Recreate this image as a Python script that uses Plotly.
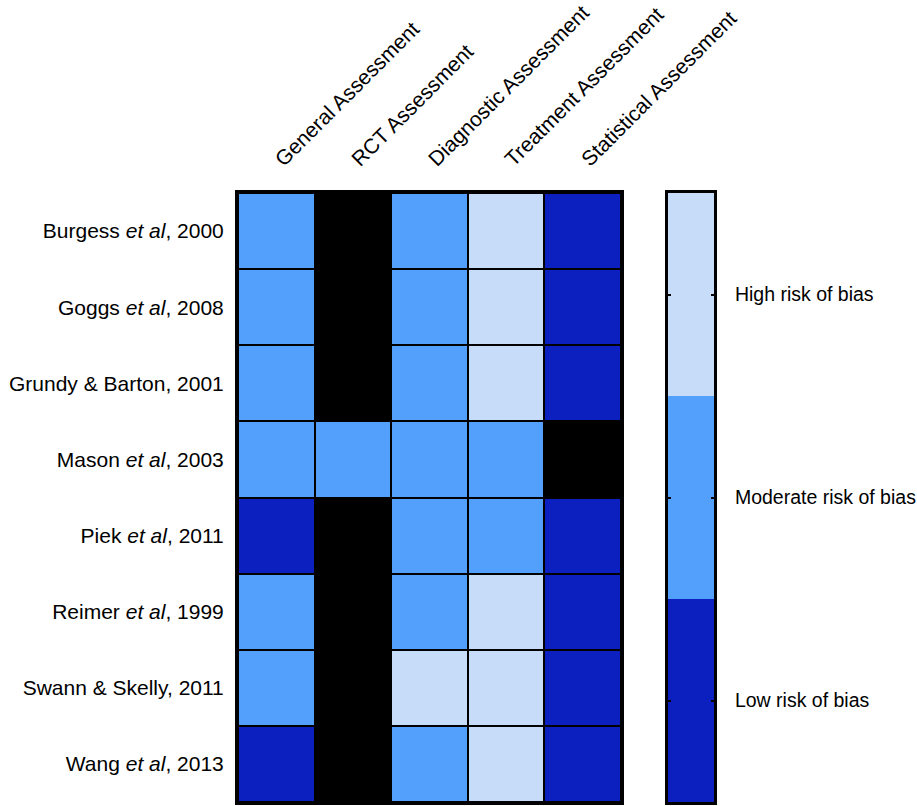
import plotly.graph_objects as go

studies = ["Burgess <i>et al</i>, 2000", "Goggs <i>et al</i>, 2008", "Grundy &amp; Barton, 2001",
           "Mason <i>et al</i>, 2003", "Piek <i>et al</i>, 2011", "Reimer <i>et al</i>, 1999",
           "Swann &amp; Skelly, 2011", "Wang <i>et al</i>, 2013"]
domains = ["General Assessment", "RCT Assessment", "Diagnostic Assessment",
           "Treatment Assessment", "Statistical Assessment"]

general = ["Moderate", "Moderate", "Moderate", "Moderate", "Low", "Moderate", "Moderate", "Low"]
rct = ["NA", "NA", "NA", "Moderate", "NA", "NA", "NA", "NA"]
diagnostic = ["Moderate", "Moderate", "Moderate", "Moderate", "Moderate", "Moderate", "High", "Moderate"]
treatment = ["High", "High", "High", "Moderate", "Moderate", "High", "High", "High"]
statistical = ["Low", "Low", "Low", "NA", "Low", "Low", "Low", "Low"]

levels = ["NA", "Low", "Moderate", "High"]
legend_labels = ["Low risk of bias", "Moderate risk of bias", "High risk of bias"]

c_na, c_low, c_mod, c_high = "#000000", "#0c20c0", "#52a0fb", "#c6dcf8"
cscale = [[0, c_na], [0.25, c_na], [0.25, c_low], [0.5, c_low],
          [0.5, c_mod], [0.75, c_mod], [0.75, c_high], [1, c_high]]

cols = [general, rct, diagnostic, treatment, statistical]
z = [[levels.index(col[i]) for col in cols] for i in range(len(studies))]

fig = go.Figure()
fig.add_trace(go.Heatmap(z=z, x=domains, y=studies, colorscale=cscale, zmin=-0.5, zmax=3.5,
                         showscale=False, xgap=2, ygap=2, hoverinfo="skip",
                         xaxis="x", yaxis="y"))
fig.add_trace(go.Heatmap(z=[[levels.index(l.split(" ")[0])] for l in legend_labels],
                         x=["key"], y=legend_labels, colorscale=cscale, zmin=-0.5, zmax=3.5,
                         showscale=False, hoverinfo="skip", xaxis="x2", yaxis="y2"))

fam = "Liberation Sans, Arial, sans-serif"
font = dict(family=fam, size=19.5, color="black")
W, H = 917, 806
L, R, T, B = 238, W - 714, 193, 4
pw = W - L - R
fig.update_layout(
    width=W, height=H, margin=dict(l=L, r=R, t=T, b=B, autoexpand=False),
    plot_bgcolor="black", paper_bgcolor="white", font=font,
    xaxis=dict(domain=[0, (621 - L) / pw], side="top", tickangle=-45, showline=True,
               linewidth=3, linecolor="black", mirror=True, ticks="", showgrid=False,
               zeroline=False, tickfont=dict(family=fam, size=21, color="black"),
               automargin=False, ticklabelstandoff=11),
    yaxis=dict(domain=[0, 1], autorange="reversed", showline=True, linewidth=3,
               linecolor="black", mirror=True, ticks="", showgrid=False, zeroline=False,
               ticklabelstandoff=7, tickfont=dict(family=fam, size=21, color="black"),
               automargin=False),
    xaxis2=dict(domain=[(668 - L) / pw, 1], anchor="y2", showline=True, linewidth=3,
                linecolor="black", mirror=True, showticklabels=False, ticks="",
                showgrid=False, zeroline=False, automargin=False),
    yaxis2=dict(domain=[0, 1], anchor="x2", side="right", showline=True, linewidth=3,
                linecolor="black", mirror="ticks", ticks="inside", ticklen=3, tickwidth=2,
                tickcolor="black", showgrid=False, zeroline=False, ticklabelstandoff=14,
                tickfont=font, automargin=False),
)
fig.write_html("out.html", config={"displayModeBar": False},
               post_script="document.body.style.margin='0px';")
